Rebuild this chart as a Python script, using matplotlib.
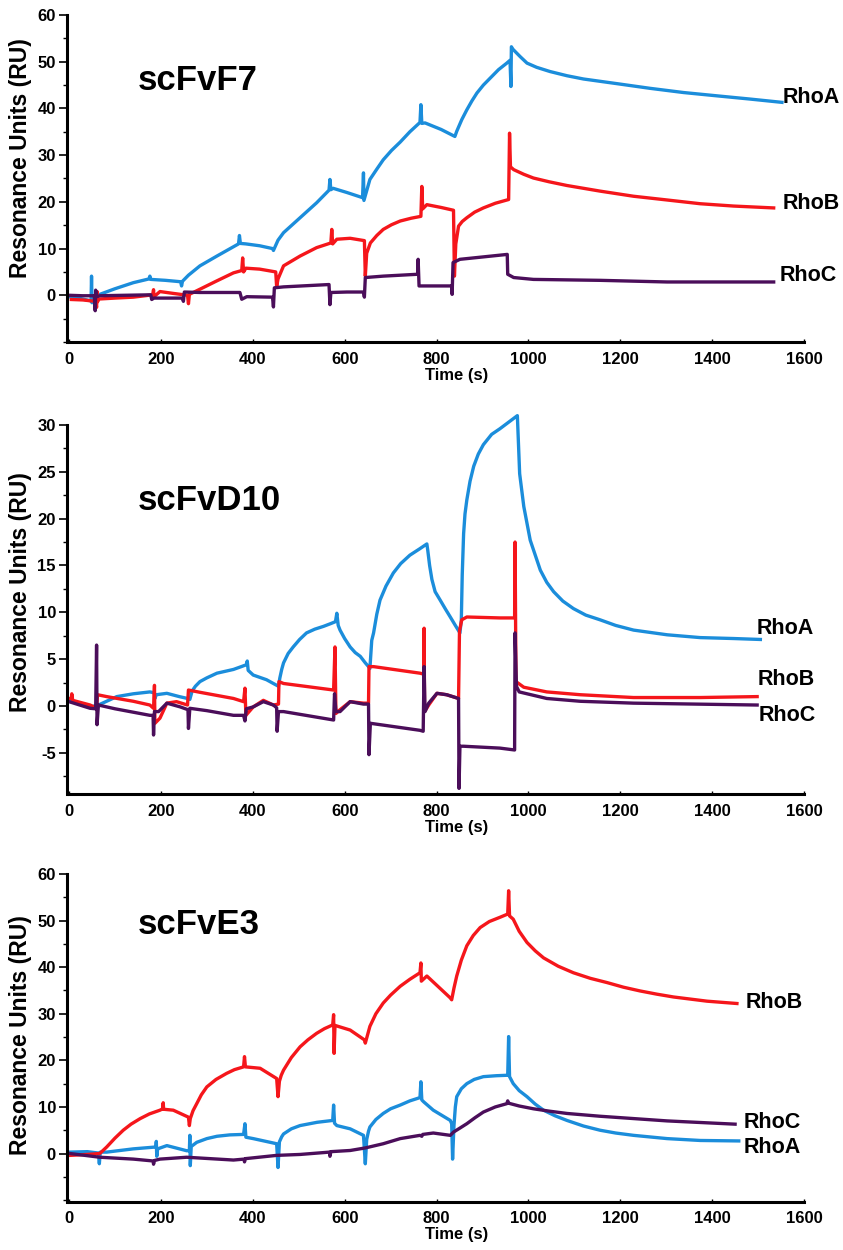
import numpy as np
import matplotlib
matplotlib.use("Agg")
import matplotlib.pyplot as plt
from matplotlib.ticker import MultipleLocator

plt.rcParams['font.family'] = ['Liberation Sans', 'DejaVu Sans']
plt.rcParams['font.weight'] = 'bold'
plt.rcParams['axes.labelweight'] = 'bold'
plt.rcParams['axes.unicode_minus'] = False

# (time s, RU)
f7_rhoa = [(0, -0.3), (25, -0.7), (48, -1.2), (49, 4.1), (50, -1.6), (52, -0.6), (67, 0.2), (100, 1.4),
           (140, 2.7), (174, 3.5), (176, 4.1), (178, 3.4), (210, 3.2), (243, 2.9), (245, 2.0), (247, 3.0),
           (260, 4.3), (285, 6.3), (322, 8.4), (369, 11.0), (371, 12.8), (373, 11.1), (385, 11.0),
           (415, 10.6), (443, 10.0), (445, 9.6), (455, 11.8), (467, 13.4), (503, 16.6), (539, 19.8),
           (566, 22.5), (568, 24.8), (570, 22.6), (575, 22.9), (605, 22.0), (639, 20.9), (641, 26.2),
           (642, 20.3), (655, 24.8), (670, 27.0), (684, 29.0), (702, 31.0), (721, 32.8), (742, 35.0),
           (764, 37.0), (766, 40.8), (768, 36.8), (775, 36.9), (810, 35.5), (840, 34.0), (844, 35.1),
           (855, 37.6), (866, 39.7), (877, 41.6), (888, 43.3), (902, 45.0), (917, 46.5), (935, 48.3),
           (953, 49.7), (960, 50.3), (962, 44.7), (963, 53.2), (966, 52.7), (971, 52.2), (982, 51.1),
           (997, 49.7), (1018, 48.8), (1047, 47.9), (1084, 47.0), (1120, 46.3), (1193, 45.3),
           (1265, 44.3), (1338, 43.4), (1410, 42.7), (1483, 42.0), (1552, 41.3)]
f7_rhob = [(5, -0.9), (30, -1.0), (58, -1.3), (60, -2.6), (61, 0.8), (62, -1.4), (65, -0.8), (100, -0.6),
           (140, -0.4), (182, 0.1), (184, 1.2), (185, -0.3), (198, 0.8), (227, 0.4), (258, 0.0),
           (260, -1.8), (262, 0.2), (285, 1.3), (320, 3.0), (358, 4.8), (376, 5.3), (378, 8.0),
           (380, 5.0), (385, 5.8), (415, 5.6), (450, 5.0), (452, 1.8), (455, 3.5), (467, 6.3),
           (503, 8.4), (539, 10.2), (570, 11.2), (572, 14.1), (574, 11.0), (583, 12.0), (612, 12.2),
           (643, 11.7), (645, 4.1), (648, 9.0), (656, 11.2), (670, 12.8), (684, 14.1), (702, 15.1),
           (721, 15.9), (745, 16.5), (766, 16.9), (768, 23.3), (770, 18.5), (779, 19.4), (810, 18.8),
           (837, 18.2), (839, 4.1), (842, 11.0), (848, 14.8), (856, 15.8), (866, 16.6), (883, 17.8),
           (902, 18.7), (928, 19.7), (957, 20.5), (959, 34.7), (961, 27.5), (968, 26.9), (990, 25.9),
           (1011, 25.1), (1045, 24.3), (1084, 23.5), (1156, 22.3), (1229, 21.2), (1302, 20.4),
           (1374, 19.6), (1447, 19.1), (1534, 18.7)]
f7_rhoc = [(0, 0.0), (30, -0.1), (55, -0.1), (57, -3.3), (58, 1.1), (60, -0.3), (67, -0.1), (120, 0.0),
           (178, 0.1), (180, -0.9), (185, -0.6), (215, -0.6), (247, -0.6), (249, -1.3), (251, 0.7),
           (285, 0.6), (372, 0.6), (376, -0.85), (387, -0.3), (443, -0.4), (445, -2.5), (447, 1.6),
           (467, 1.8), (566, 2.3), (568, -2.0), (570, 0.6), (605, 0.7), (641, 0.7), (643, -0.4),
           (645, 3.8), (684, 4.1), (759, 4.5), (760, 7.7), (762, 2.0), (770, 2.0), (833, 2.0),
           (834, 0.2), (836, 7.0), (851, 7.7), (954, 8.75), (955, 4.5), (968, 3.8), (1011, 3.4),
           (1156, 3.2), (1302, 2.85), (1534, 2.85)]

d10_rhoa = [(0, 0.5), (20, 0.3), (46, -0.1), (64, 0.1), (104, 1.0), (140, 1.3), (176, 1.5), (186, 1.4),
            (187, 0.8), (190, 1.2), (213, 1.35), (240, 1.0), (258, 0.8), (263, 0.7), (268, 1.6),
            (275, 2.1), (285, 2.6), (300, 3.0), (322, 3.5), (340, 3.7), (358, 3.9), (375, 4.2),
            (386, 4.4), (388, 4.8), (390, 3.8), (401, 3.3), (430, 2.8), (456, 2.1), (459, 3.0),
            (463, 3.9), (467, 4.6), (477, 5.6), (488, 6.3), (502, 7.1), (517, 7.8), (535, 8.2),
            (554, 8.5), (570, 8.8), (580, 9.0), (583, 9.9), (586, 8.6), (590, 8.1), (600, 7.2),
            (612, 6.3), (623, 5.7), (634, 5.3), (645, 4.6), (652, 4.2), (655, 4.0), (659, 7.0),
            (663, 7.8), (670, 9.8), (677, 11.3), (690, 12.8), (706, 14.2), (722, 15.2), (742, 16.1),
            (764, 16.8), (779, 17.3), (781, 16.6), (785, 15.0), (790, 13.5), (797, 12.2), (808, 11.3),
            (820, 10.3), (830, 9.5), (841, 8.6), (851, 7.8), (854, 9.2), (856, 14.0), (859, 18.4),
            (862, 20.5), (866, 22.0), (873, 24.0), (881, 25.6), (891, 26.9), (902, 27.9), (920, 29.0),
            (938, 29.6), (957, 30.3), (976, 31.0), (981, 24.8), (990, 21.3), (1004, 17.7),
            (1026, 14.5), (1040, 13.2), (1055, 12.2), (1075, 11.2), (1098, 10.4), (1125, 9.7),
            (1156, 9.2), (1190, 8.6), (1229, 8.1), (1302, 7.6), (1374, 7.3), (1447, 7.2), (1505, 7.1)]
d10_rhob = [(0, 0.8), (5, 0.8), (6, 1.3), (8, 0.6), (46, 0.1), (60, -0.25), (62, 1.2), (82, 1.0),
            (140, 0.5), (176, 0.1), (184, -0.25), (186, 2.2), (187, -1.85), (198, -1.3), (213, 0.3),
            (234, 0.46), (258, 0.1), (260, 1.7), (285, 1.46), (358, 0.8), (380, 0.46), (383, 1.9),
            (385, -1.0), (401, -0.1), (423, 0.6), (445, 0.1), (456, 0.2), (457, 2.6), (467, 2.4),
            (576, 1.7), (579, 6.3), (581, -0.8), (590, -0.4), (612, 0.46), (641, 0.3), (652, 0.3),
            (653, 4.2), (663, 4.2), (764, 3.5), (772, 3.4), (773, 8.3), (774, -0.6), (783, 0.1),
            (801, 1.35), (822, 1.2), (848, 0.8), (850, 8.0), (855, 9.2), (866, 9.5), (938, 9.4),
            (970, 9.4), (971, 17.5), (973, 2.6), (990, 2.0), (1040, 1.5), (1113, 1.2), (1229, 0.9),
            (1374, 0.9), (1498, 1.0)]
d10_rhoc = [(0, 0.46), (46, -0.25), (58, -0.3), (60, 6.5), (61, -2.0), (64, 0.1), (100, -0.3),
            (176, -1.0), (183, -1.0), (184, -3.1), (186, -0.6), (195, -0.6), (213, 0.3), (242, -0.1),
            (259, -0.4), (260, -2.4), (263, -0.25), (300, -0.5), (358, -1.0), (380, -1.0), (383, -1.6),
            (386, -0.3), (401, -0.1), (423, 0.46), (445, 0.1), (452, -0.2), (453, -2.7), (456, -0.6),
            (467, -0.6), (576, -1.5), (578, 1.3), (581, -0.6), (590, -0.6), (612, 0.46), (641, 0.2),
            (652, 0.2), (653, -5.2), (656, -1.85), (764, -2.6), (771, -2.7), (773, 4.2), (775, -0.6),
            (783, 0.3), (801, 1.35), (822, 1.2), (848, 0.8), (849, -8.8), (851, -4.3), (859, -4.3),
            (938, -4.5), (970, -4.7), (971, 7.8), (974, 2.1), (980, 1.5), (1040, 0.8), (1113, 0.5),
            (1229, 0.3), (1498, 0.1)]

e3_rhoa = [(2, 0.3), (40, 0.4), (64, 0.1), (66, -2.2), (68, 0.3), (82, 0.3), (140, 1.0), (189, 1.4),
           (190, 2.6), (191, -0.6), (193, 1.0), (213, 1.7), (256, 0.6), (262, 0.6), (263, 3.9),
           (264, -2.6), (266, 1.5), (278, 2.4), (300, 3.2), (322, 3.7), (350, 4.0), (380, 4.1),
           (383, 6.4), (385, 3.5), (401, 3.2), (452, 2.1), (455, -3.0), (458, 2.5), (463, 3.6),
           (467, 4.2), (484, 5.3), (503, 6.0), (540, 6.7), (574, 7.1), (576, 10.4), (578, 6.5),
           (583, 6.0), (612, 5.3), (641, 3.9), (645, -2.2), (648, 3.0), (652, 4.8), (655, 5.7),
           (668, 7.3), (684, 8.6), (700, 9.6), (721, 10.4), (742, 11.3), (764, 12.0), (766, 15.4),
           (768, 11.5), (772, 11.1), (793, 9.3), (830, 7.1), (833, 6.4), (835, -1.2), (838, 6.0),
           (841, 10.0), (844, 12.2), (854, 13.9), (866, 15.0), (882, 15.9), (902, 16.5), (930, 16.7),
           (955, 16.8), (957, 25.1), (959, 16.5), (967, 15.0), (980, 13.5), (997, 12.2), (1015, 10.6),
           (1033, 9.3), (1058, 8.1), (1084, 7.1), (1120, 5.9), (1156, 5.0), (1190, 4.4), (1229, 3.9),
           (1302, 3.2), (1374, 2.8), (1458, 2.7)]
e3_rhob = [(2, -0.4), (40, -0.2), (67, 0.0), (82, 1.4), (100, 3.3), (118, 5.0), (135, 6.3), (155, 7.5),
           (175, 8.5), (198, 9.3), (204, 9.6), (205, 10.9), (206, 9.5), (227, 9.3), (260, 7.8),
           (262, 6.0), (264, 7.5), (270, 9.2), (278, 10.7), (288, 12.6), (300, 14.3), (320, 15.9),
           (343, 17.2), (360, 18.0), (380, 18.6), (382, 20.8), (384, 18.6), (416, 18.3), (452, 16.1),
           (455, 12.2), (458, 15.5), (462, 16.8), (467, 17.9), (484, 20.6), (503, 22.9), (520, 24.4),
           (539, 25.8), (556, 26.8), (574, 27.6), (576, 29.8), (577, 21.5), (579, 27.5), (612, 26.5),
           (643, 24.4), (645, 23.7), (650, 25.5), (655, 27.3), (668, 30.0), (684, 32.3), (700, 34.0),
           (721, 35.9), (742, 37.4), (764, 38.8), (766, 40.9), (767, 37.0), (779, 38.1), (830, 33.4),
           (833, 33.0), (838, 35.5), (844, 38.1), (854, 41.5), (866, 44.6), (880, 46.8), (895, 48.5),
           (915, 49.8), (938, 50.7), (955, 51.4), (957, 56.4), (959, 51.0), (967, 50.3), (980, 47.7),
           (997, 45.3), (1015, 43.5), (1033, 42.0), (1065, 40.2), (1098, 38.8), (1135, 37.6),
           (1171, 36.7), (1207, 35.7), (1243, 34.9), (1280, 34.2), (1316, 33.6), (1389, 32.7),
           (1454, 32.2)]
e3_rhoc = [(2, 0.0), (67, -0.8), (140, -1.2), (183, -1.6), (184, -2.3), (186, -1.5), (198, -1.2),
           (256, -0.8), (358, -1.4), (381, -1.2), (382, -1.8), (384, -1.1), (452, -0.4), (503, -0.2),
           (567, 0.3), (568, -0.6), (570, 0.4), (612, 0.65), (645, 1.2), (684, 2.1), (721, 3.2),
           (764, 3.9), (768, 3.7), (770, 4.1), (793, 4.4), (830, 3.9), (837, 4.6), (850, 5.4),
           (866, 6.4), (884, 7.7), (902, 8.9), (928, 10.0), (953, 10.7), (955, 11.3), (957, 10.8),
           (980, 10.2), (1011, 9.6), (1045, 9.1), (1084, 8.6), (1156, 8.0), (1229, 7.5), (1302, 7.0),
           (1450, 6.3)]

col_a = '#1b8ddb'
col_b = '#f5161b'
col_c = '#4b0e5a'

fig = plt.figure(figsize=(8.43, 12.5), dpi=100)

def panel(rect, curves, ylim, major, minor, ylab_y, title, title_y, labels):
    ax = fig.add_axes(rect)
    for pts, c in curves:
        pts = np.array(pts)
        ax.plot(pts[:, 0], pts[:, 1], color=c, lw=2.4, solid_joinstyle='round', clip_on=False)
    ax.set_xlim(-4.4, 1600)
    ax.set_ylim(*ylim)
    ax.set_xticks(np.arange(0, 1601, 200))
    ax.set_yticks(np.arange(major[0], ylim[1] + 0.1, major[1]))
    ax.yaxis.set_minor_locator(MultipleLocator(minor))
    for s in ['top', 'right']:
        ax.spines[s].set_visible(False)
    ax.spines['left'].set_linewidth(2.2)
    ax.spines['bottom'].set_linewidth(2.2)
    ax.spines['bottom'].set_bounds(0, 1600)
    ax.tick_params(axis='y', which='major', length=6, width=1.2, pad=2, labelsize=12)
    ax.tick_params(axis='y', which='minor', length=3, width=1)
    ax.tick_params(axis='x', which='major', length=2, width=1, direction='in', pad=7, labelsize=12)
    plt.setp(ax.get_xticklabels() + ax.get_yticklabels(), fontweight='bold')
    h = rect[3] * 1250
    ax.set_ylabel('Resonance Units (RU)', fontsize=16.5, fontweight='bold')
    ax.yaxis.set_label_coords(-0.0475, ylab_y)
    ax.set_xlabel('Time (s)', fontsize=12, fontweight='bold')
    ax.xaxis.set_label_coords(0.528, -26 / h)
    fig.text(138 / 843, 1 - title_y / 1250, title, fontsize=25, fontweight='bold', va='center', ha='left')
    for txt, x, y in labels:
        ax.text(x, y, txt, fontsize=15.5, fontweight='bold', va='center', ha='left')
    return ax

left, width = 67 / 843, 737 / 843
panel([left, 0.7264, width, 0.2616], [(f7_rhoa, col_a), (f7_rhob, col_b), (f7_rhoc, col_c)],
      (-10, 60), (0, 10), 5, 0.563, 'scFvF7', 80,
      [('RhoA', 1553, 42.3), ('RhoB', 1553, 19.6), ('RhoC', 1548, 4.3)])
panel([left, 0.3648, width, 0.2952], [(d10_rhoa, col_a), (d10_rhob, col_b), (d10_rhoc, col_c)],
      (-9.4, 30), (-5, 5), 2.5, 0.547, 'scFvD10', 500,
      [('RhoA', 1496, 8.3), ('RhoB', 1498, 2.8), ('RhoC', 1502, -1.0)])
panel([left, 0.0388, width, 0.262], [(e3_rhoa, col_a), (e3_rhob, col_b), (e3_rhoc, col_c)],
      (-10.3, 60), (0, 10), 5, 0.508, 'scFvE3', 924,
      [('RhoB', 1472, 32.4), ('RhoC', 1468, 6.6), ('RhoA', 1468, 1.2)])

plt.savefig('out.png', dpi=100)
